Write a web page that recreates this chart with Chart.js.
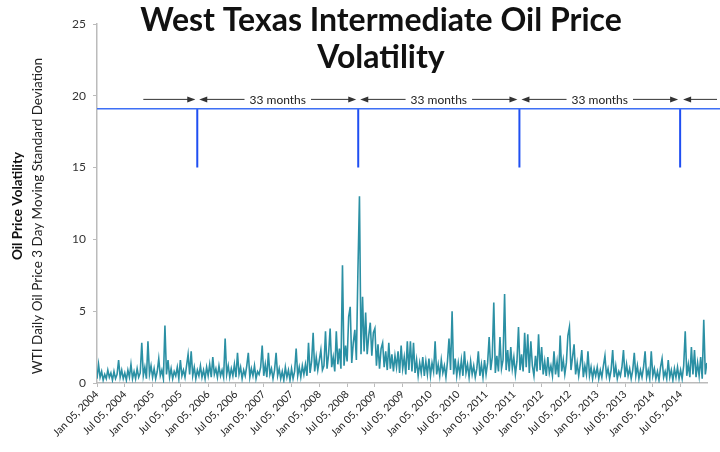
<!DOCTYPE html>
<html>
<head>
<meta charset="utf-8">
<script src="https://cdn.jsdelivr.net/npm/chart.js@4.4.1/dist/chart.umd.min.js"></script>
<style>
  body { margin: 0; background: #fff; }
  #wrap { width: 720px; height: 452px; position: relative; }
</style>
</head>
<body>
<div id="wrap"><canvas id="myChart"></canvas></div>
<script>
// 3 readings per month, Jan 2004 onwards
const vol2004 = [0.3,1.3,0.4, 0.8,0.2,0.6, 0.3,0.9,0.4, 0.7,0.2,0.8, 0.3,0.6,1.6, 0.4,0.9,0.3,
                 0.7,0.2,0.9, 0.4,1.3,0.3, 0.8,0.3,1.0, 0.4,0.7,2.8, 0.5,1.1,0.3, 2.9,0.6,1.2];
const vol2005 = [0.4,1.0,0.3, 0.8,1.7,0.5, 0.9,0.3,4.0, 0.6,1.6,0.4, 1.0,0.3,0.8, 0.5,1.1,0.3,
                 1.6,0.5,0.9, 0.4,1.2,2.0, 0.6,2.2,0.5, 1.1,0.3,0.9, 0.5,1.2,0.4, 0.9,0.3,1.1];
const vol2006 = [0.5,1.3,0.4, 1.8,0.6,1.0, 0.4,1.2,0.5, 0.9,0.4,3.1, 0.6,1.2,0.4, 1.0,0.5,1.3,
                 0.4,2.1,0.6, 1.1,0.3,0.9, 0.5,1.2,2.1, 0.4,1.0,0.5, 1.2,0.3,0.8, 0.6,1.1,2.6];
const vol2007 = [0.5,1.3,0.4, 2.1,0.6,1.0, 0.3,0.9,2.1, 0.5,1.0,0.3, 0.8,0.2,1.1, 0.4,0.9,0.2,
                 1.0,0.3,0.8, 2.4,0.5,1.1, 0.4,1.2,0.6, 1.3,0.5,2.8, 0.7,1.5,3.5, 0.8,1.8,0.9];
const vol2008 = [1.6,2.3,0.9, 1.2,3.6,1.0, 2.0,3.8,1.1, 1.8,0.8,3.6, 1.3,2.4,1.0, 8.2,1.2,2.6,
                 1.5,4.6,5.3, 1.4,2.8,3.7, 1.6,7.8,13.0, 2.0,6.0,2.2, 4.9,2.0,3.3, 4.2,1.9,3.5];
const vol2009 = [3.8,1.2,2.7, 1.0,2.4,2.8, 1.1,2.2,0.9, 2.8,1.0,2.0, 0.8,1.9,1.1, 2.2,0.7,2.6,
                 1.0,1.8,0.6, 2.9,0.9,2.9, 0.8,2.8,0.7, 1.6,0.5,1.4, 0.7,1.8,0.5, 1.5,0.6,1.7];
const vol2010 = [0.5,1.4,0.8, 2.9,0.6,1.3, 0.5,1.6,0.7, 1.2,0.4,1.5, 3.1,0.9,5.0, 0.6,1.7,0.5,
                 1.4,0.6,1.6, 0.5,2.2,0.7, 1.3,0.4,1.5, 0.6,1.2,0.4, 1.0,2.2,0.5, 1.3,0.4,1.6];
const vol2011 = [0.6,1.4,3.2, 0.9,1.8,5.6, 0.7,1.9,0.8, 3.2,1.0,1.6, 6.2,0.9,2.3, 0.8,2.5,1.0,
                 1.8,0.6,1.5, 3.9,0.9,2.0, 0.8,3.5,1.1, 3.4,0.7,2.9, 1.2,0.5,1.9, 0.8,3.4,0.9];
const vol2012 = [2.5,0.6,1.5, 0.5,1.8,0.7, 1.2,0.5,2.2, 0.6,1.5,0.4, 3.3,0.8,1.6, 0.6,1.4,3.3,
                 3.9,0.9,1.8, 2.7,0.6,1.4, 0.5,1.3,2.3, 0.4,1.2,0.6, 2.2,0.5,1.1, 0.3,1.0,0.5];
const vol2013 = [1.1,0.3,0.9, 0.4,1.2,1.9, 0.5,1.0,0.3, 0.9,2.3,0.4, 1.2,0.3,0.8, 0.5,1.1,2.3,
                 0.4,1.3,0.5, 1.0,0.3,0.9, 2.1,0.5,1.2, 0.3,0.9,0.4, 1.1,2.2,0.4, 0.9,0.3,2.2];
const vol2014 = [0.5,1.0,0.3, 0.8,0.2,1.1, 1.7,0.4,0.8, 0.3,1.6,0.4, 0.9,0.2,1.0, 0.4,1.1,0.3,
                 0.9,0.3,1.2, 3.6,0.5,1.3, 0.4,2.5,0.6, 2.3,0.4,1.4, 0.5,1.8,0.3, 4.4,0.6,1.4];

const tickLabels = ['Jan 05, 2004','Jul 05, 2004','Jan 05, 2005','Jul 05, 2005','Jan 05, 2006','Jul 05, 2006',
  'Jan 05, 2007','Jul 05, 2007','Jan 05, 2008','Jul 05, 2008','Jan 05, 2009','Jul 05, 2009',
  'Jan 05, 2010','Jul 05, 2010','Jan 05, 2011','Jul 05, 2011','Jan 05, 2012','Jul 05, 2012',
  'Jan 05, 2013','Jul 05, 2013','Jan 05, 2014','Jul 05, 2014'];

// 33-month markers (months since Jan 2004)
const markerMonths = [21.65, 56.4, 91.2, 125.9];
const markerTop = 19.1;
const markerBottom = 15;
const arrowLevel = 19.75;
const arrowText = '33 months';

const allVol = [].concat(vol2004, vol2005, vol2006, vol2007, vol2008, vol2009,
                         vol2010, vol2011, vol2012, vol2013, vol2014);
const volPoints = allVol.map((v, i) => ({ x: i / 3, y: v }));

const markerSets = markerMonths.map(m => ({
  data: [{ x: m, y: markerTop }, { x: m, y: markerBottom }],
  borderColor: '#1f4ff2', borderWidth: 2, pointRadius: 0
}));

const arrowHead = (ctx, x, y, dir) => {
  ctx.beginPath();
  ctx.moveTo(x, y);
  ctx.lineTo(x - dir * 8, y - 3);
  ctx.lineTo(x - dir * 8, y + 3);
  ctx.closePath();
  ctx.fill();
};

const decor = {
  id: 'decor',
  afterDraw(chart) {
    const ctx = chart.ctx;
    const xs = chart.scales.x, ys = chart.scales.y;
    ctx.save();
    // title
    ctx.fillStyle = '#111';
    ctx.textAlign = 'center';
    ctx.textBaseline = 'alphabetic';
    ctx.font = 'bold 32px Lato';
    ctx.fillText('West Texas Intermediate Oil Price', 381, 31);
    ctx.fillText('Volatility', 381, 68);
    // y titles
    ctx.save();
    ctx.translate(22, 206);
    ctx.rotate(-Math.PI / 2);
    ctx.font = 'bold 13.5px Lato';
    ctx.fillText('Oil Price Volatility', 0, 0);
    ctx.restore();
    ctx.save();
    ctx.translate(42, 216);
    ctx.rotate(-Math.PI / 2);
    ctx.font = '13.5px Lato';
    ctx.fillStyle = '#222';
    ctx.fillText('WTI Daily Oil Price 3 Day Moving Standard Deviation', 0, 0);
    ctx.restore();
    // arrows
    const y = ys.getPixelForValue(arrowLevel);
    const px = markerMonths.map(m => xs.getPixelForValue(m));
    ctx.strokeStyle = '#333';
    ctx.fillStyle = '#333';
    ctx.lineWidth = 1;
    ctx.font = '12px Lato';
    ctx.textBaseline = 'middle';
    const seg = (a, b) => { ctx.beginPath(); ctx.moveTo(a, y); ctx.lineTo(b, y); ctx.stroke(); };
    const start = xs.getPixelForValue(10);
    seg(start, px[0] - 3);
    arrowHead(ctx, px[0] - 2, y, 1);
    for (let i = 0; i < px.length - 1; i++) {
      const a = px[i] + 2, b = px[i + 1] - 2;
      const mid = (a + b) / 2;
      const w = ctx.measureText(arrowText).width / 2 + 5;
      arrowHead(ctx, a, y, -1);
      seg(a + 4, mid - w);
      seg(mid + w, b - 4);
      arrowHead(ctx, b, y, 1);
      ctx.fillStyle = '#222';
      ctx.fillText(arrowText, mid, y + 1);
      ctx.fillStyle = '#333';
    }
    arrowHead(ctx, px[3] + 3, y, -1);
    seg(px[3] + 6, 717);
    ctx.restore();
  }
};

new Chart('myChart', {
  type: 'line',
  data: {
    datasets: [
      {
        data: volPoints,
        borderColor: '#2b90a4',
        borderWidth: 1.6,
        pointRadius: 0,
        tension: 0
      },
      {
        data: [{ x: 0, y: markerTop }, { x: 134.6, y: markerTop }],
        borderColor: '#3d6ff5',
        borderWidth: 1.5,
        pointRadius: 0,
        clip: false
      },
      ...markerSets
    ]
  },
  options: {
    responsive: true,
    maintainAspectRatio: false,
    animation: false,
    layout: { padding: { top: 24, right: 13, left: 0, bottom: 0 } },
    scales: {
      x: {
        type: 'linear',
        min: 0,
        max: 131.7,
        afterFit: s => { s.height = 69; },
        grid: { drawOnChartArea: false, tickLength: 4, color: '#bbb' },
        border: { color: '#bbb', width: 1.5 },
        ticks: {
          stepSize: 6,
          autoSkip: false,
          maxRotation: 45,
          minRotation: 45,
          padding: 1,
          color: '#222',
          font: { family: 'Lato', size: 10.5 },
          callback: v => (v % 6 === 0 && tickLabels[v / 6]) ? tickLabels[v / 6] : null
        }
      },
      y: {
        min: 0,
        max: 25,
        afterFit: s => { s.width = 97; },
        grid: { drawOnChartArea: false, tickLength: 4, color: '#bbb' },
        border: { color: '#bbb', width: 1.5 },
        ticks: {
          stepSize: 5,
          padding: 7,
          color: '#333',
          font: { family: 'Lato', size: 12 }
        }
      }
    },
    plugins: {
      legend: false,
      tooltip: { enabled: false }
    }
  },
  plugins: [decor]
});
</script>
</body>
</html>
